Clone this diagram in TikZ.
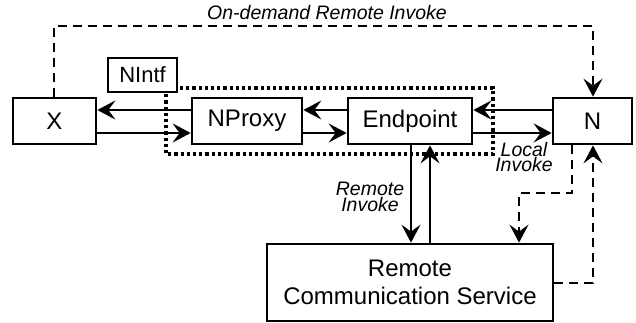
\documentclass[tikz,border=0pt]{standalone}
\usepackage{fontspec}
\setmainfont{Liberation Sans}
\usetikzlibrary{arrows.meta}
\begin{document}
\begin{tikzpicture}[x=1pt,y=-1pt,
 box/.style={draw,line width=2.7pt,fill=white,inner sep=0pt,font=\fontsize{24}{28}\selectfont,align=center},
 arr/.style={line width=2.5pt,-{Stealth[length=18pt,width=19pt,inset=7pt]}},
 dsh/.style={arr,dash pattern=on 9pt off 6pt},
 dotbox/.style={line width=3.2pt,dash pattern=on 3.2pt off 3pt},
 lbl/.style={font=\fontsize{19.5}{16.5}\selectfont\itshape,align=center,inner sep=0pt}]
\useasboundingbox (0,0) rectangle (636,323);
% dotted group frame
\draw[dotbox] (166,88) rectangle (493,154);
% boxes
\node[box,minimum width=83,minimum height=46] (X) at (54.5,121) {X};
\node[box,minimum width=69,minimum height=34,font=\fontsize{22}{26}\selectfont] (NI) at (142.5,75) {NIntf};
\node[box,minimum width=110,minimum height=46] (NP) at (247,121) {NProxy};
\node[box,minimum width=124,minimum height=46] (EP) at (410,121) {Endpoint};
\node[box,minimum width=79,minimum height=46] (N) at (592.5,121) {N};
\node[box,minimum width=286,minimum height=77] (RCS) at (410,282.5) {Remote\\Communication Service};
% horizontal arrows
\draw[arr] (NP.west |- 0,110) -- (X.east |- 0,110);
\draw[arr] (X.east |- 0,133) -- (NP.west |- 0,133);
\draw[arr] (EP.west |- 0,110) -- (NP.east |- 0,110);
\draw[arr] (NP.east |- 0,133) -- (EP.west |- 0,133);
\draw[arr] (N.west |- 0,110) -- (EP.east |- 0,110);
\draw[arr] (EP.east |- 0,133) -- (N.west |- 0,133);
% vertical arrows
\draw[arr] (EP.south -| 411,0) -- (RCS.north -| 411,0);
\draw[arr] (RCS.north -| 430,0) -- (EP.south -| 430,0);
% dashed connectors
\draw[dsh] (X.north -| 54,0) -- (54,26) -- (593,26) -- (N.north -| 593,0);
\draw[dsh] (N.south -| 572,0) -- (572,193) -- (519,193) -- (RCS.north -| 519,0);
\draw[dsh] (RCS.east |- 0,283) -- (593,283) -- (N.south -| 593,0);
% labels
\node[lbl] (od) at (327,13) {On-demand Remote Invoke};
\node[lbl] (ri) at (370,197) {Remote\\Invoke};
\node[lbl,font=\fontsize{19.5}{15.5}\selectfont\itshape] (li) at (524,157) {Local\\Invoke};
\end{tikzpicture}
\end{document}
